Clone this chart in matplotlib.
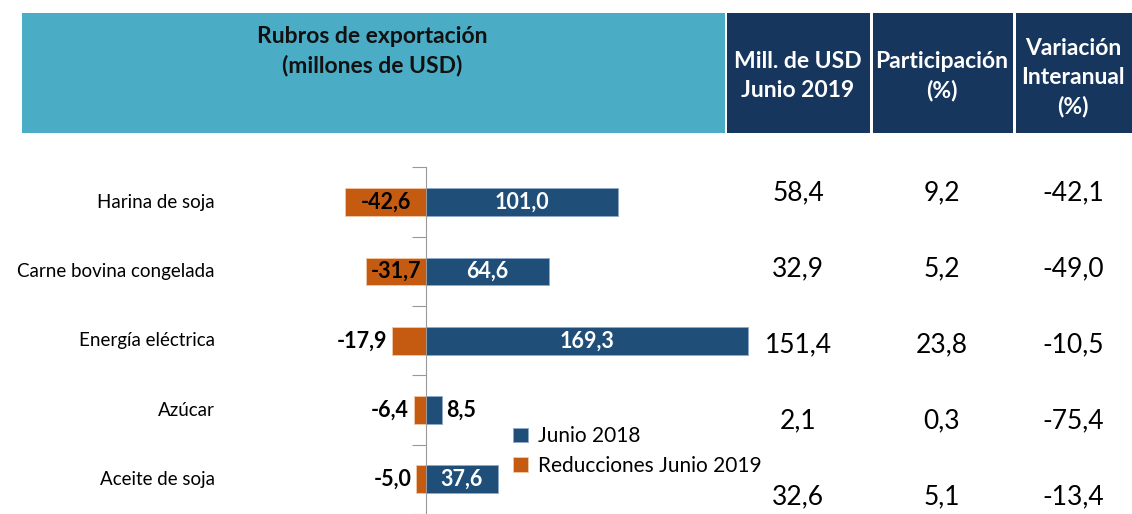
import matplotlib
matplotlib.use("Agg")
import matplotlib.pyplot as plt
from matplotlib.patches import Rectangle

plt.rcParams['font.family'] = ['Lato', 'DejaVu Sans']

categories = ["Harina de soja", "Carne bovina congelada", "Energía eléctrica", "Azúcar", "Aceite de soja"]
junio_2018 = [101.0, 64.6, 169.3, 8.5, 37.6]
reducciones_2019 = [-42.6, -31.7, -17.9, -6.4, -5.0]
mill_usd_2019 = [58.4, 32.9, 151.4, 2.1, 32.6]
participacion = [9.2, 5.2, 23.8, 0.3, 5.1]
variacion = [-42.1, -49.0, -10.5, -75.4, -13.4]

series_names = ["Junio 2018", "Reducciones Junio 2019"]
header_main = "Rubros de exportación\n(millones de USD)"
col_headers = ["Mill. de USD\nJunio 2019", "Participación\n(%)", "Variación\nInteranual\n(%)"]

BLUE = "#1F4E79"
ORANGE = "#C55A11"
LIGHT = "#4BACC6"
NAVY = "#17365D"

W, H = 1132, 514
fig = plt.figure(figsize=(W / 100, H / 100), dpi=100)

def fx(x):
    return x / W

def fy(y):
    return 1 - y / H

def fmt(v):
    return f"{v:.1f}".replace(".", ",")

# header boxes
boxes = [(22, 725, LIGHT), (727, 870, NAVY), (873, 1013, NAVY), (1016, 1132, NAVY)]
for x0, x1, c in boxes:
    fig.patches.append(Rectangle((fx(x0), fy(133)), fx(x1) - fx(x0), fy(13) - fy(133),
                                 transform=fig.transFigure, facecolor=c, edgecolor='none', zorder=0))
fig.text(fx(372), fy(51), header_main, ha='center', va='center', fontsize=16.5, fontweight='bold',
         color='#111111', linespacing=1.45)
col_x = [798, 942, 1073]
col_y = [76, 76, 78]
for x, y, t in zip(col_x, col_y, col_headers):
    fig.text(fx(x), fy(y), t, ha='center', va='center', fontsize=16.5, fontweight='bold',
             color='white', linespacing=1.45)

# chart axes: x-zero at 426 px, 1.902 px per unit; rows 71 px apart starting at 202
ax_left, ax_right = 220, 760
ax_top, ax_bottom = 167.5, 514
ax = fig.add_axes([fx(ax_left), fy(ax_bottom), fx(ax_right) - fx(ax_left), fy(ax_top) - fy(ax_bottom)])
scale = 1.902
ax.set_xlim((ax_left - 426) / scale, (ax_right - 426) / scale)
ax.set_ylim(-0.5 + (ax_bottom - ax_top) / 71, -0.5)
ypos = list(range(len(categories)))
bh = 0.4
ax.barh(ypos, junio_2018, height=bh, color=BLUE, label=series_names[0], edgecolor='#8EA9C8', linewidth=0.6)
ax.barh(ypos, reducciones_2019, height=bh, color=ORANGE, label=series_names[1], edgecolor='#F0C8A8', linewidth=0.6)

for spine in ['top', 'right', 'bottom']:
    ax.spines[spine].set_visible(False)
ax.spines['left'].set_position(('data', 0))
ax.spines['left'].set_color('#999999')
ax.set_xticks([])
ax.set_yticks([i - 0.5 for i in range(len(categories) + 1)])
ax.set_yticklabels([])
ax.tick_params(axis='y', direction='out', length=10, color='#999999')

for i, (cat, p, n) in enumerate(zip(categories, junio_2018, reducciones_2019)):
    ax.text(-111, i, cat, ha='right', va='center', fontsize=13.5, color='black')
    if p > 20:
        ax.text(p / 2, i, fmt(p), ha='center', va='center', fontsize=15.5, fontweight='bold', color='white')
    else:
        ax.text(p + 2, i, fmt(p), ha='left', va='center', fontsize=15.5, fontweight='bold', color='black')
    if n < -25:
        ax.text(n / 2, i, fmt(n), ha='center', va='center', fontsize=15.5, fontweight='bold', color='black')
    else:
        ax.text(n - 2.5, i, fmt(n), ha='right', va='center', fontsize=15.5, fontweight='bold', color='black')

leg = ax.legend(loc='upper left', bbox_to_anchor=((505 - ax_left) / (ax_right - ax_left), 1 - (418 - ax_top) / (ax_bottom - ax_top)),
                frameon=False, fontsize=15, handlelength=0.7, handleheight=0.7, handletextpad=0.5,
                labelspacing=0.45, borderaxespad=0)

# table columns
for i in range(len(categories)):
    y = 193 + 76 * i
    for x, v in zip(col_x, [mill_usd_2019[i], participacion[i], variacion[i]]):
        fig.text(fx(x), fy(y), fmt(v), ha='center', va='center', fontsize=19, color='black')

fig.savefig("out.png", dpi=100)
